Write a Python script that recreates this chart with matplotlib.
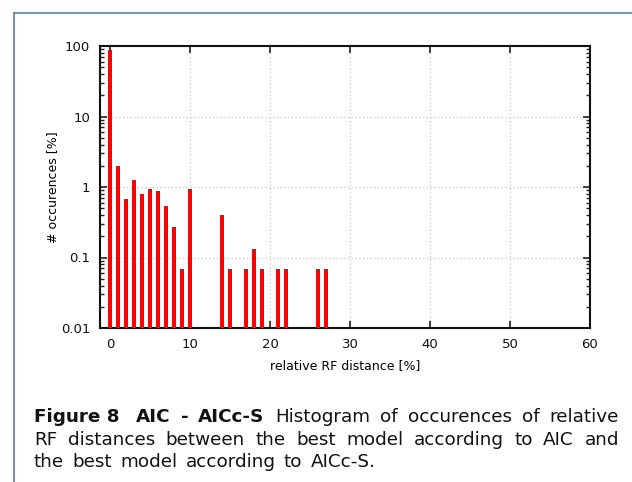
import numpy as np
import matplotlib
matplotlib.use('Agg')
import matplotlib.pyplot as plt
from matplotlib.ticker import LogLocator, NullFormatter
from matplotlib.lines import Line2D

# ── DATA ──────────────────────────────────────────────────────
rf_distance = [0, 1, 2, 3, 4, 5, 6, 7, 8, 9, 10, 14, 15, 17, 18, 19, 21, 22, 26, 27]
occurences = [88.0, 2.0, 0.67, 1.27, 0.80, 0.93, 0.87, 0.53, 0.27, 0.067, 0.93,
              0.40, 0.067, 0.067, 0.133, 0.067, 0.067, 0.067, 0.067, 0.067]
x_ticks = [0, 10, 20, 30, 40, 50, 60]
y_ticks = [0.01, 0.1, 1, 10, 100]
y_ticklabels = ["0.01", "0.1", "1", "10", "100"]

caption_bold = ["Figure 8 ", "AIC", "-", "AICc-S"]
caption_line1 = "Histogram of occurences of relative"
caption_line2 = "RF distances between the best model according to AIC and"
caption_line3 = "the best model according to AICc-S."

W, H = 632, 482
fig = plt.figure(figsize=(W / 100, H / 100), dpi=100)

# ── BORDER (page frame) ───────────────────────────────────────
frame_col = '#5d7fa3'
fig.add_artist(Line2D([14 / W, 14 / W], [0, 1 - 13 / H], color=frame_col, lw=1.2))
fig.add_artist(Line2D([14 / W, 1], [1 - 13 / H, 1 - 13 / H], color=frame_col, lw=1.2))

# ── PLOT ──────────────────────────────────────────────────────
ax = fig.add_axes([100 / W, 1 - 328 / H, 490 / W, 282 / H])
ax.bar(rf_distance, occurences, width=0.62, color='#ff0000', bottom=0.001, zorder=3)
ax.set_yscale('log')
ax.set_ylim(0.01, 100)
ax.set_xlim(-1.25, 60)

ax.set_xticks(x_ticks)
ax.set_yticks(y_ticks)
ax.set_yticklabels(y_ticklabels)
ax.yaxis.set_minor_locator(LogLocator(base=10, subs=np.arange(2, 10)))
ax.yaxis.set_minor_formatter(NullFormatter())

ax.tick_params(axis='both', which='major', direction='in', length=5, width=1.2,
               top=True, right=True, labelsize=9.5, pad=7, colors='#222222')
ax.tick_params(axis='y', which='minor', direction='in', length=3, width=1,
               left=True, right=True, colors='#222222')
ax.tick_params(axis='x', which='minor', bottom=False, top=False)
for lab in ax.get_xticklabels() + ax.get_yticklabels():
    lab.set_color('#111111')

ax.grid(True, which='major', linestyle=(0, (1, 2)), color='#c4c4c4', lw=0.9, zorder=0)
for sp in ax.spines.values():
    sp.set_linewidth(1.5)
    sp.set_color('#111111')

ax.set_xlabel('relative RF distance [%]', fontsize=9, labelpad=6)
ax.set_ylabel('# occurences [%]', fontsize=9, labelpad=1)

# ── CAPTION (justified lines 1-2) ─────────────────────────────
cap_font = dict(family='DejaVu Sans', fontsize=13.2, color='#111111')
x_left, x_right = 34, 619
fig.canvas.draw()
r = fig.canvas.get_renderer()


def word_width(txt, weight):
    t = fig.text(0, 0, txt, fontweight=weight, **cap_font)
    w = t.get_window_extent(renderer=r).width
    t.remove()
    return w


space = 1.4 * (word_width("a a", 'normal') - word_width("aa", 'normal'))


def put_line(words, baseline, justify):
    widths = [word_width(w, wt) for w, wt in words]
    gap = space
    if justify:
        gap = (x_right - x_left - sum(widths)) / (len(words) - 1)
    x = x_left
    for (w, wt), wd in zip(words, widths):
        fig.text(x / W, 1 - baseline / H, w, fontweight=wt, va='baseline', **cap_font)
        x += wd + gap


line1 = [(w, 'bold') for w in caption_bold] + \
        [(w, 'normal') for w in caption_line1.split()]
put_line(line1, 422, True)
put_line([(w, 'normal') for w in caption_line2.split()], 445, True)
put_line([(w, 'normal') for w in caption_line3.split()], 467, False)

fig.savefig('out.png', dpi=100)
